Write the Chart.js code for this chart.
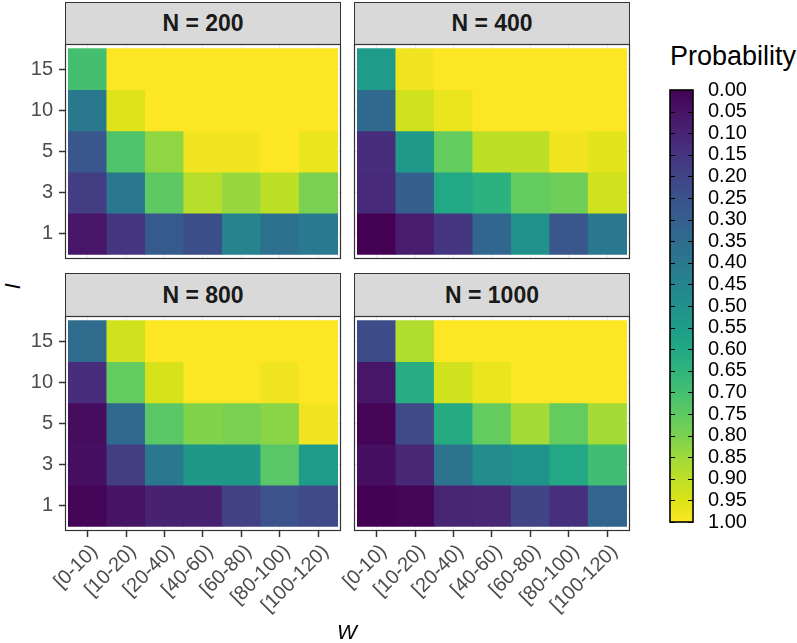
<!DOCTYPE html>
<html>
<head>
<meta charset="utf-8">
<script src="https://cdn.jsdelivr.net/npm/chart.js@4.4.1/dist/chart.umd.min.js"></script>
<style>
  body { margin: 0; width: 797px; height: 643px; background: #fff; position: relative; overflow: hidden;
         font-family: "Liberation Sans", Arial, sans-serif; }
  canvas, .strip, .axis-title, .legend-title { position: absolute; }
  .strip { box-sizing: border-box; background: #d9d9d9; border: 1px solid #333; color: #1a1a1a;
           font-weight: bold; font-size: 23px; text-align: center; }
  .axis-title { font-style: italic; font-size: 21px; color: #000; line-height: 21px; }
  .legend-title { font-size: 27px; line-height: 27px; color: #000; }
</style>
</head>
<body>

<div class="strip" style="left:65px;top:2px;width:276px;height:43px;line-height:41px">N = 200</div>
<div class="strip" style="left:354px;top:2px;width:276px;height:43px;line-height:41px">N = 400</div>
<div class="strip" style="left:65px;top:273px;width:276px;height:44px;line-height:42px">N = 800</div>
<div class="strip" style="left:354px;top:273px;width:276px;height:44px;line-height:42px">N = 1000</div>

<canvas id="p200" width="325" height="247" style="left:20px;top:28px"></canvas>
<canvas id="p400" width="325" height="247" style="left:309px;top:28px"></canvas>
<canvas id="p800" width="325" height="326" style="left:20px;top:300px"></canvas>
<canvas id="p1000" width="325" height="326" style="left:309px;top:300px"></canvas>
<canvas id="legend" width="137" height="462" style="left:660px;top:75px"></canvas>

<div class="axis-title" style="left:2px;top:276px;width:20px;text-align:center;transform:rotate(-90deg)">l</div>
<div class="axis-title" style="left:327px;top:621px;width:40px;text-align:center">W</div>
<div class="legend-title" style="left:670px;top:43px">Probability</div>

<script>
// W bins (x) and l levels (y, bottom to top)
const wBins = ['[0-10)', '[10-20)', '[20-40)', '[40-60)', '[60-80)', '[80-100)', '[100-120)'];
const lLevels = ['1', '3', '5', '10', '15'];

// probability, one row per l level (l = 1, 3, 5, 10, 15), one column per W bin
const probN200 = [
    [0.06, 0.16, 0.28, 0.24, 0.45, 0.37, 0.41],
    [0.18, 0.40, 0.75, 0.89, 0.84, 0.90, 0.80],
    [0.27, 0.72, 0.83, 0.98, 0.98, 1.00, 0.97],
    [0.40, 0.95, 1.00, 1.00, 1.00, 1.00, 1.00],
    [0.70, 1.00, 1.00, 1.00, 1.00, 1.00, 1.00]
];
const probN400 = [
    [0.00, 0.08, 0.16, 0.33, 0.50, 0.27, 0.40],
    [0.12, 0.30, 0.60, 0.64, 0.76, 0.78, 0.93],
    [0.13, 0.54, 0.76, 0.90, 0.90, 0.98, 0.96],
    [0.34, 0.93, 0.97, 1.00, 1.00, 1.00, 1.00],
    [0.55, 0.98, 1.00, 1.00, 1.00, 1.00, 1.00]
];
const probN800 = [
    [0.01, 0.05, 0.09, 0.09, 0.19, 0.25, 0.22],
    [0.04, 0.18, 0.40, 0.53, 0.53, 0.74, 0.55],
    [0.03, 0.34, 0.74, 0.81, 0.80, 0.82, 0.98],
    [0.13, 0.76, 0.94, 1.00, 1.00, 0.98, 1.00],
    [0.35, 0.93, 1.00, 1.00, 1.00, 1.00, 1.00]
];
const probN1000 = [
    [0.00, 0.01, 0.10, 0.11, 0.20, 0.14, 0.32],
    [0.04, 0.11, 0.38, 0.48, 0.51, 0.60, 0.69],
    [0.01, 0.22, 0.61, 0.76, 0.86, 0.76, 0.86],
    [0.06, 0.62, 0.93, 0.97, 1.00, 1.00, 1.00],
    [0.23, 0.88, 1.00, 1.00, 1.00, 1.00, 1.00]
];

// colour bar labels
const legendTicks = [0.00, 0.05, 0.10, 0.15, 0.20, 0.25, 0.30, 0.35, 0.40, 0.45, 0.50,
                     0.55, 0.60, 0.65, 0.70, 0.75, 0.80, 0.85, 0.90, 0.95, 1.00];

// viridis, 21 stops
const VIRIDIS = ['#440154', '#471365', '#482475', '#46337f', '#414487', '#3b528b', '#355f8d',
                 '#2f6c8e', '#2a788e', '#25848e', '#21918c', '#1e9c89', '#22a884', '#2fb47c',
                 '#44bf70', '#5ec962', '#7ad151', '#9fda3a', '#bddf26', '#dde318', '#fde725'];

const FONT = '"Liberation Sans", Arial, sans-serif';

function hexToRgb(h) {
    return [parseInt(h.slice(1, 3), 16), parseInt(h.slice(3, 5), 16), parseInt(h.slice(5, 7), 16)];
}

function viridis(t) {
    const p = Math.min(Math.max(t, 0), 1) * (VIRIDIS.length - 1);
    const i = Math.min(Math.floor(p), VIRIDIS.length - 2);
    const f = p - i;
    const a = hexToRgb(VIRIDIS[i]);
    const b = hexToRgb(VIRIDIS[i + 1]);
    const c = a.map((v, k) => Math.round(v + (b[k] - v) * f));
    return `rgb(${c[0]}, ${c[1]}, ${c[2]})`;
}

// keep the chart area where the layout padding puts it
function noScalePadding(s) {
    s.paddingTop = 0;
    s.paddingBottom = 0;
    s.paddingLeft = 0;
    s.paddingRight = 0;
}

// dark frame round each facet panel
const panelBorder = {
    id: 'panelBorder',
    afterDraw(chart) {
        const { ctx, chartArea: a } = chart;
        ctx.save();
        ctx.strokeStyle = '#333333';
        ctx.lineWidth = 1.2;
        ctx.strokeRect(a.left + 0.5, a.top + 0.5, a.right - a.left - 1, a.bottom - a.top - 1);
        ctx.restore();
    }
};

function makePanel(id, values, showY, showX) {
    const cells = [];
    const colors = [];
    values.forEach((row, r) => {
        row.forEach((p, c) => {
            cells.push({ x: c + 0.5, y: [r, r + 1] });
            colors.push(viridis(p));
        });
    });

    return new Chart(document.getElementById(id), {
        type: 'bar',
        data: {
            datasets: [{
                data: cells,
                backgroundColor: colors,
                borderWidth: 0,
                barPercentage: 1,
                categoryPercentage: 1
            }]
        },
        options: {
            responsive: false,
            animation: false,
            events: [],
            layout: { padding: { top: 16, right: 4, bottom: showX ? 0 : 16, left: 0 } },
            plugins: { legend: { display: false }, tooltip: { enabled: false } },
            scales: {
                x: {
                    type: 'linear',
                    min: -0.086,
                    max: 7.086,
                    offset: false,
                    afterBuildTicks: s => { s.ticks = wBins.map((_, i) => ({ value: i + 0.5 })); },
                    afterFit: s => { s.height = showX ? 95 : 0; noScalePadding(s); },
                    grid: {
                        offset: false,
                        color: '#ebebeb',
                        lineWidth: 1,
                        drawTicks: showX,
                        tickLength: 6,
                        tickColor: '#333333',
                        tickWidth: 1.5
                    },
                    border: { display: false },
                    ticks: {
                        display: showX,
                        autoSkip: false,
                        minRotation: 45,
                        maxRotation: 45,
                        padding: 3,
                        labelOffset: 7,
                        color: '#4d4d4d',
                        font: { size: 20, family: FONT },
                        callback: (v, i) => wBins[i]
                    }
                },
                y: {
                    type: 'linear',
                    min: -0.11,
                    max: 5.11,
                    offset: false,
                    afterBuildTicks: s => { s.ticks = lLevels.map((_, i) => ({ value: i + 0.5 })); },
                    afterFit: s => { s.width = 45; noScalePadding(s); },
                    grid: {
                        offset: false,
                        color: '#ebebeb',
                        lineWidth: 1,
                        drawTicks: showY,
                        tickLength: 6,
                        tickColor: '#333333',
                        tickWidth: 1.5
                    },
                    border: { display: false },
                    ticks: {
                        display: showY,
                        autoSkip: false,
                        padding: 6,
                        color: '#4d4d4d',
                        font: { size: 20, family: FONT },
                        callback: (v, i) => lLevels[i]
                    }
                }
            }
        },
        plugins: [panelBorder]
    });
}

makePanel('p200', probN200, true, false);
makePanel('p400', probN400, false, false);
makePanel('p800', probN800, true, true);
makePanel('p1000', probN1000, false, true);

// colour bar legend
function barGradient(chart) {
    const y = chart.scales.y;
    if (!chart.chartArea || !y) return VIRIDIS[10];
    const g = chart.ctx.createLinearGradient(0, y.getPixelForValue(0), 0, y.getPixelForValue(1));
    VIRIDIS.forEach((c, i) => g.addColorStop(i / (VIRIDIS.length - 1), c));
    return g;
}

const colorbarFrame = {
    id: 'colorbarFrame',
    afterDatasetsDraw(chart) {
        const { ctx, chartArea: a } = chart;
        const y = chart.scales.y;
        ctx.save();
        ctx.strokeStyle = '#000';
        ctx.lineWidth = 1.2;
        y.ticks.forEach(t => {
            const py = Math.round(y.getPixelForValue(t.value)) + 0.5;
            ctx.beginPath();
            ctx.moveTo(a.left, py);
            ctx.lineTo(a.left + 5, py);
            ctx.moveTo(a.right - 5, py);
            ctx.lineTo(a.right, py);
            ctx.stroke();
        });
        ctx.lineWidth = 1.6;
        ctx.strokeRect(a.left, a.top, a.right - a.left, a.bottom - a.top);
        ctx.restore();
    }
};

new Chart(document.getElementById('legend'), {
    type: 'bar',
    data: {
        labels: ['Probability'],
        datasets: [{
            data: [[0, 1]],
            backgroundColor: ctx => barGradient(ctx.chart),
            borderWidth: 0,
            barPercentage: 1,
            categoryPercentage: 1
        }]
    },
    options: {
        responsive: false,
        animation: false,
        events: [],
        layout: { padding: { top: 15, bottom: 15, left: 10, right: 0 } },
        plugins: { legend: { display: false }, tooltip: { enabled: false } },
        scales: {
            x: { display: false },
            y: {
                position: 'right',
                reverse: true,
                min: 0,
                max: 1,
                afterBuildTicks: s => { s.ticks = legendTicks.map(v => ({ value: v })); },
                afterFit: s => { s.width = 104; noScalePadding(s); },
                grid: { display: false, drawTicks: false },
                border: { display: false },
                ticks: {
                    autoSkip: false,
                    padding: 15,
                    color: '#000',
                    font: { size: 20, family: FONT },
                    callback: v => v.toFixed(2)
                }
            }
        }
    },
    plugins: [colorbarFrame]
});
</script>
</body>
</html>
